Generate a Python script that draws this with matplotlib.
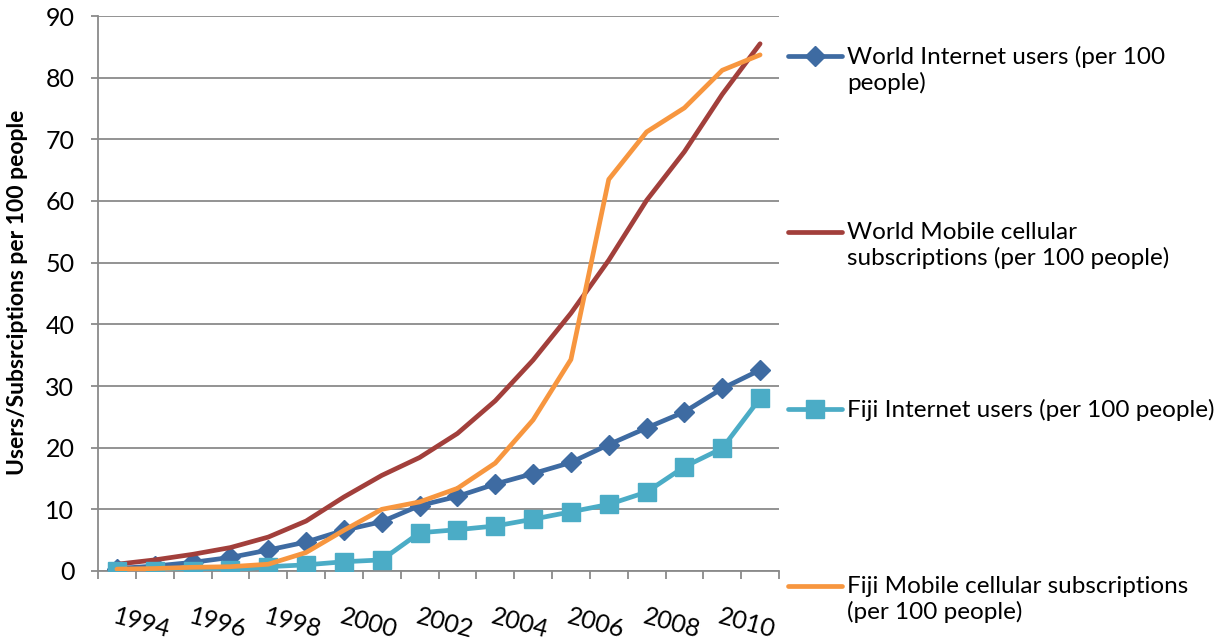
import matplotlib
matplotlib.use("Agg")
import matplotlib.pyplot as plt
from matplotlib.lines import Line2D
import numpy as np

plt.rcParams['font.family'] = ['Lato', 'DejaVu Sans']

years = list(range(1994, 2012))
tick_years = list(range(1994, 2011, 2))

world_internet = [0.4, 0.8, 1.4, 2.2, 3.4, 4.7, 6.6, 8.0, 10.6, 12.1, 14.1, 15.8,
                  17.6, 20.5, 23.2, 25.8, 29.6, 32.6]
world_mobile = [1.1, 1.8, 2.7, 3.8, 5.5, 8.1, 12.0, 15.5, 18.4, 22.3, 27.6, 34.2,
                41.8, 50.4, 60.1, 68.0, 77.3, 85.5]
fiji_internet = [0.0, 0.0, 0.05, 0.1, 0.7, 1.0, 1.5, 1.8, 6.2, 6.7, 7.3, 8.4,
                 9.6, 10.8, 12.8, 16.9, 19.9, 28.0]
fiji_mobile = [0.3, 0.4, 0.6, 0.7, 1.1, 3.0, 6.6, 10.0, 11.2, 13.4, 17.5, 24.5,
               34.3, 63.5, 71.2, 75.1, 81.2, 83.7]

series_labels = [
    "World Internet users (per 100\npeople)",
    "World Mobile cellular\nsubscriptions (per 100 people)",
    "Fiji Internet users (per 100 people)",
    "Fiji Mobile cellular subscriptions\n(per 100 people)",
]

BLUE = "#3E6BA2"
RED = "#A23F3B"
TEAL = "#4BACC6"
ORANGE = "#F7963F"
GRID = "#8A8A8A"

W, H = 1218, 641
fig = plt.figure(figsize=(W / 100, H / 100), dpi=100)
ax = fig.add_axes([98 / W, 1 - 571 / H, (779 - 98) / W, (571 - 16) / H])

x = np.arange(len(years))
lw = 3.4
ax.plot(x, world_internet, color=BLUE, lw=lw, marker='D', ms=10,
        solid_joinstyle='round', solid_capstyle='round', zorder=3)
ax.plot(x, world_mobile, color=RED, lw=lw, solid_joinstyle='round',
        solid_capstyle='round', zorder=4)
ax.plot(x, fiji_internet, color=TEAL, lw=lw, marker='s', ms=13.5,
        solid_joinstyle='round', solid_capstyle='round', zorder=5)
ax.plot(x, fiji_mobile, color=ORANGE, lw=lw, solid_joinstyle='round',
        solid_capstyle='round', zorder=6)

ax.set_xlim(-0.5, len(years) - 0.5)
ax.set_ylim(0, 90)
ax.set_yticks(np.arange(0, 91, 10))
ax.yaxis.grid(True, color=GRID, lw=1.3)
ax.set_axisbelow(True)

for s in ('top', 'right'):
    ax.spines[s].set_visible(False)
for s in ('left', 'bottom'):
    ax.spines[s].set_color(GRID)
    ax.spines[s].set_linewidth(1.3)

ax.tick_params(axis='y', length=5, width=1.3, color=GRID, pad=12,
               labelsize=18, labelcolor='black')

tick_pos = [years.index(y) for y in tick_years]
ax.set_xticks(tick_pos)
ax.set_xticklabels([str(y) for y in tick_years], rotation=-15,
                   ha='left', va='top', rotation_mode='anchor')
ax.set_xticks(np.arange(-0.5, len(years), 1), minor=True)
ax.tick_params(axis='x', which='major', length=0, pad=24, labelsize=18)
ax.tick_params(axis='x', which='minor', length=6, width=1.3, color=GRID)

fig.text(18 / W, 1 - 292 / H, "Users/Subsrciptions per 100 people",
         rotation=90, ha='center', va='center', fontsize=16.5,
         fontweight='bold')

# Legend drawn entry by entry beside the plot
legend_rows = [(56, BLUE, 'D', 10), (232, RED, None, 0),
               (409, TEAL, 's', 12.5), (586, ORANGE, None, 0)]
for (py, color, mk, ms), label in zip(legend_rows, series_labels):
    fy = 1 - py / H
    fig.add_artist(Line2D([788 / W, 842 / W], [fy, fy], color=color, lw=lw,
                          solid_capstyle='round', transform=fig.transFigure))
    if mk:
        fig.add_artist(Line2D([815 / W], [fy], color=color, marker=mk, ms=ms,
                              lw=0, transform=fig.transFigure))
    fig.text(847 / W, 1 - (py - 10) / H, label, ha='left', va='top',
             fontsize=17.5, linespacing=1.2)

fig.savefig("out.png", dpi=100)
